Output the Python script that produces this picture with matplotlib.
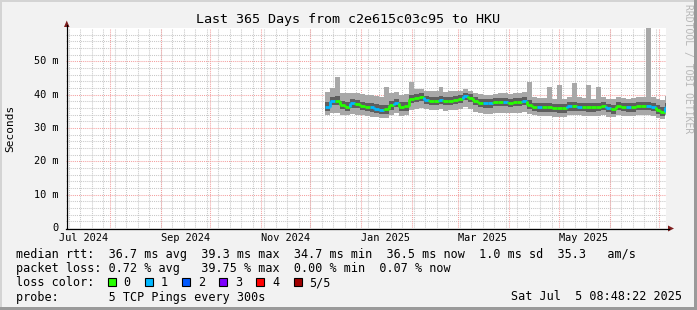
import matplotlib
matplotlib.use('Agg')
import matplotlib.pyplot as plt
import matplotlib.dates as mdates
from matplotlib.collections import LineCollection
from matplotlib.patches import Rectangle, Polygon
from matplotlib.lines import Line2D
import numpy as np
import pandas as pd

# ---------------- data ----------------
title = "Last 365 Days from c2e615c03c95 to HKU"
t_start = pd.Timestamp("2024-07-05 08:48:22")
t_end = pd.Timestamp("2025-07-05 08:48:22")
first_sample = "2024-12-10"   # samples every 3 days from here

median = [36.4, 38.2, 38.2, 36.9, 36.4, 37.4, 37.2, 36.6, 36.3, 36.2,
          35.8, 35.5, 35.6, 36.8, 37.6, 36.4, 36.5, 38.6, 38.9, 39.4,
          38.4, 38.2, 38.2, 38.4, 38.0, 38.2, 38.4, 38.6, 39.5, 38.9,
          38.2, 37.6, 37.4, 37.4, 37.8, 37.9, 37.9, 37.6, 37.9, 37.9,
          38.1, 37.0, 36.4, 36.2, 36.2, 36.2, 36.0, 35.9, 35.9, 36.5,
          36.5, 36.4, 36.4, 36.2, 36.2, 36.3, 36.6, 36.0, 35.6, 36.6,
          36.3, 36.2, 36.2, 36.6, 36.6, 36.6, 36.4, 35.5, 34.9, 36.4]
smoke_max = [40.8, 42.0, 45.2, 40.6, 40.4, 40.6, 40.4, 40.2, 40.0, 39.8,
             39.6, 39.4, 42.4, 40.4, 40.8, 40.0, 40.2, 43.9, 41.6, 41.8,
             41.2, 41.0, 41.2, 42.4, 40.8, 41.0, 41.2, 41.0, 41.6, 41.2,
             40.6, 40.2, 40.0, 40.0, 40.2, 40.4, 40.4, 40.2, 40.6, 40.6,
             40.8, 43.9, 39.2, 39.0, 39.0, 42.4, 38.8, 43.0, 38.8, 39.2,
             43.4, 39.2, 39.0, 42.9, 38.8, 42.4, 39.2, 38.8, 38.6, 39.4,
             39.0, 38.8, 39.0, 39.2, 39.2, 59.9, 39.2, 38.6, 38.4, 39.6]
smoke_min = [34.0, 34.6, 34.4, 34.0, 33.8, 34.2, 34.0, 33.8, 33.6, 33.4,
             33.2, 33.0, 33.0, 33.8, 34.6, 33.6, 33.8, 35.4, 35.8, 36.0,
             35.6, 35.4, 35.4, 35.6, 35.2, 35.4, 35.4, 35.6, 36.2, 35.6,
             34.8, 34.4, 34.2, 34.2, 34.6, 34.6, 34.6, 34.4, 34.6, 34.6,
             34.8, 34.2, 33.8, 33.6, 33.6, 33.6, 33.4, 33.4, 33.4, 33.8,
             33.8, 33.8, 33.6, 33.6, 33.6, 33.6, 33.8, 33.4, 33.2, 33.8,
             33.6, 33.6, 33.6, 33.8, 33.8, 33.8, 33.6, 33.0, 32.8, 33.8]
smoke_hi2 = [37.8, 39.4, 39.6, 38.2, 37.8, 38.6, 38.4, 37.9, 37.6, 37.5,
             37.1, 36.8, 36.9, 38.1, 38.8, 37.7, 37.8, 39.8, 40.1, 40.5,
             39.6, 39.4, 39.4, 39.6, 39.2, 39.4, 39.6, 39.8, 40.6, 40.1,
             39.4, 38.8, 38.6, 38.6, 39.0, 39.1, 39.1, 38.8, 39.1, 39.1,
             39.3, 38.3, 37.6, 37.4, 37.4, 37.4, 37.2, 37.1, 37.1, 37.7,
             37.7, 37.6, 37.6, 37.4, 37.4, 37.5, 37.8, 37.2, 36.9, 37.8,
             37.5, 37.4, 37.4, 37.8, 37.8, 37.9, 37.6, 36.8, 36.2, 37.6]
smoke_lo2 = [35.2, 36.9, 36.9, 35.6, 35.1, 36.1, 35.9, 35.3, 35.0, 34.9,
             34.5, 34.2, 34.3, 35.5, 36.3, 35.1, 35.2, 37.4, 37.7, 38.2,
             37.2, 37.0, 37.0, 37.2, 36.8, 37.0, 37.2, 37.4, 38.3, 37.7,
             36.9, 36.3, 36.1, 36.1, 36.5, 36.6, 36.6, 36.3, 36.6, 36.6,
             36.8, 35.7, 35.1, 34.9, 34.9, 34.9, 34.7, 34.6, 34.6, 35.2,
             35.2, 35.1, 35.1, 34.9, 34.9, 35.0, 35.3, 34.7, 34.3, 35.3,
             35.0, 34.9, 34.9, 35.3, 35.3, 35.3, 35.1, 34.2, 33.6, 35.1]
loss = [1, 1, 0, 0, 0, 1, 0, 0, 0, 1,
        1, 1, 0, 0, 1, 0, 0, 0, 0, 0,
        1, 0, 0, 1, 0, 0, 0, 0, 1, 0,
        0, 0, 1, 1, 0, 0, 1, 0, 0, 0,
        1, 0, 0, 1, 0, 0, 0, 0, 0, 1,
        0, 1, 0, 0, 0, 0, 0, 1, 0, 0,
        0, 1, 0, 0, 0, 1, 1, 0, 0, 1]

y_ticks = [0, 10, 20, 30, 40, 50]
y_tick_labels = ["0", "10 m", "20 m", "30 m", "40 m", "50 m"]
x_label_months = ["2024-07", "2024-09", "2024-11", "2025-01", "2025-03", "2025-05"]
x_label_texts = ["Jul 2024", "Sep 2024", "Nov 2024", "Jan 2025", "Mar 2025", "May 2025"]

loss_labels = ["0", "1", "2", "3", "4", "5/5"]
loss_colors = ["#26ff00", "#00b8ff", "#0059ff", "#7e00ff", "#ff0000", "#a10000"]

legend_line1 = "median rtt:  36.7 ms avg  39.3 ms max  34.7 ms min  36.5 ms now  1.0 ms sd  35.3   am/s"
legend_line2 = "packet loss: 0.72 % avg   39.75 % max  0.00 % min  0.07 % now"
legend_line3 = "loss color:"
legend_line4 = "probe:       5 TCP Pings every 300s"
timestamp = "Sat Jul  5 08:48:22 2025"
watermark = "RRDTOOL / TOBI OETIKER"

# ---------------- figure ----------------
W, H = 697, 310
MONO = "DejaVu Sans Mono"
BG = "#f2f2f2"
fig = plt.figure(figsize=(W / 100, H / 100), dpi=100, facecolor=BG)

def fx(x):
    return x / W

def fy(y):
    return 1 - y / H

ax = fig.add_axes([fx(66), fy(228), 600 / W, 200 / H])
ax.set_facecolor("white")
for s in ax.spines.values():
    s.set_visible(False)

x0 = mdates.date2num(t_start)
x1 = mdates.date2num(t_end)
ax.set_xlim(x0, x1)
ax.set_ylim(0, 60)

# grid
months = pd.date_range("2024-08-01", "2025-07-01", freq="MS")
weeks = pd.date_range("2024-07-07", "2025-07-05", freq="7D")
for w in weeks:
    ax.axvline(mdates.date2num(w), color="#c8c8c8", lw=0.75, ls=(0, (1, 1)), zorder=1)
for yv in np.arange(2, 60, 2):
    if yv % 10:
        ax.axhline(yv, color="#c8c8c8", lw=0.75, ls=(0, (1, 1)), zorder=1)
for m in months:
    ax.axvline(mdates.date2num(m), color="#f4a0a0", lw=0.75, ls=(0, (1, 1)), zorder=1.5)
for yv in y_ticks[1:]:
    ax.axhline(yv, color="#f4a0a0", lw=0.75, ls=(0, (1, 1)), zorder=1.5)

ax.set_xticks([])
ax.set_yticks([])

# data
dates = pd.date_range(first_sample, periods=len(median), freq="3D")
xe = np.append(mdates.date2num(dates), x1)

def ext(v):
    return np.append(np.asarray(v, float), v[-1])

ax.fill_between(xe, ext(smoke_min), ext(smoke_max), step="post",
                color="#a8a8a8", lw=0, zorder=2)
ax.fill_between(xe, ext(smoke_lo2), ext(smoke_hi2), step="post",
                color="#5e5e5e", lw=0, zorder=3)

segs, cols = [], []
for i in range(len(median)):
    segs.append([(xe[i], median[i]), (xe[i + 1], median[i])])
    cols.append(loss_colors[loss[i]])
    if i + 1 < len(median):
        segs.append([(xe[i + 1], median[i]), (xe[i + 1], median[i + 1])])
        cols.append(loss_colors[loss[i + 1]])
ax.add_collection(LineCollection(segs, colors=cols, linewidths=2.0, zorder=4,
                                 capstyle="butt"))

# axis lines with arrows (pixel coords)
fig.add_artist(Line2D([fx(66.5), fx(66.5)], [fy(228), fy(25)], color="black", lw=0.9))
fig.add_artist(Line2D([fx(66), fx(669)], [fy(228.5), fy(228.5)], color="black", lw=0.9))
fig.add_artist(Polygon([(fx(64), fy(27)), (fx(69.5), fy(27)), (fx(66.75), fy(20.5))],
                       closed=True, color="#7f1f1f", lw=0))
fig.add_artist(Polygon([(fx(668), fy(225.5)), (fx(668), fy(231.5)), (fx(674), fy(228.5))],
                       closed=True, color="#7f1f1f", lw=0))

# y tick labels
for v, lab in zip(y_ticks, y_tick_labels):
    ax.text(-0.012, v, lab, transform=ax.get_yaxis_transform(), ha="right",
            va="center", family=MONO, fontsize=7.4, color="black")

# x tick labels (centered mid-month)
for m, lab in zip(x_label_months, x_label_texts):
    xm = mdates.date2num(pd.Timestamp(m + "-01") + pd.Timedelta(days=15))
    ax.text(xm, fy(241), lab, transform=ax.get_xaxis_transform() if False else
            matplotlib.transforms.blended_transform_factory(ax.transData, fig.transFigure),
            ha="center", va="baseline", family=MONO, fontsize=7.4, color="black")

# title
fig.text(fx(348), fy(23), title, ha="center", va="baseline", family=MONO,
         fontsize=9.6, color="black")

# y label
fig.text(fx(10), fy(128), "Seconds", rotation=90, ha="center", va="center",
         family=MONO, fontsize=8, color="black")

# watermark
fig.text(fx(688), fy(4), watermark, rotation=270, ha="center", va="top",
         family=MONO, fontsize=7, color="#b8b8b8")

# legend
LF = 8.5
fig.text(fx(16), fy(258), legend_line1, ha="left", va="baseline", family=MONO, fontsize=LF)
fig.text(fx(16), fy(272.3), legend_line2, ha="left", va="baseline", family=MONO, fontsize=LF)
fig.text(fx(16), fy(286.5), legend_line3, ha="left", va="baseline", family=MONO, fontsize=LF)
fig.text(fx(16), fy(300.5), legend_line4, ha="left", va="baseline", family=MONO, fontsize=LF)
fig.text(fx(682), fy(300.5), timestamp, ha="right", va="baseline", family=MONO, fontsize=LF)

for k, (lab, col) in enumerate(zip(loss_labels, loss_colors)):
    bx = 108 + 37.1 * k
    fig.add_artist(Rectangle((fx(bx), fy(286)), 8 / W, 8 / H, facecolor=col,
                             edgecolor="black", lw=0.8))
    fig.text(fx(bx + 15.5), fy(286.5), lab, ha="left", va="baseline",
             family=MONO, fontsize=LF)

# frame
fig.add_artist(Rectangle((0, 0), fx(2), 1, facecolor="#d4d4d4", lw=0))
fig.add_artist(Rectangle((0, fy(2)), 1, 2 / H, facecolor="#d4d4d4", lw=0))
fig.add_artist(Rectangle((fx(694), 0), 3 / W, 1, facecolor="#9a9a9a", lw=0))
fig.add_artist(Rectangle((0, 0), 1, 3 / H, facecolor="#9a9a9a", lw=0))

fig.savefig("out.png", dpi=100, facecolor=BG)
